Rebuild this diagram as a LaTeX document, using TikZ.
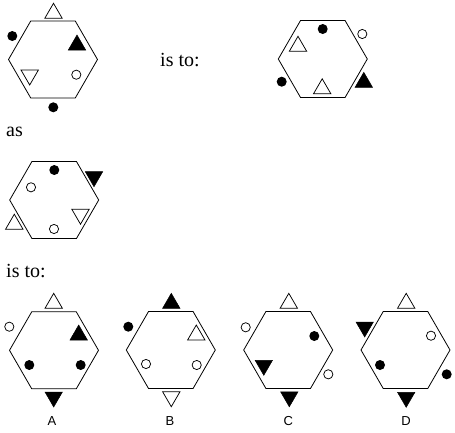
\documentclass[tikz,border=0pt]{standalone}
\usepackage{fontspec}
\setmainfont{Liberation Serif}
\newfontfamily\labfont{Liberation Sans}
\newcommand{\HexAt}[2]{\draw[hexline] (#1+44.5,#2) -- (#1+22.25,#2+38.54) -- (#1-22.25,#2+38.54) -- (#1-44.5,#2) -- (#1-22.25,#2-38.54) -- (#1+22.25,#2-38.54) -- cycle;}
\newcommand{\TriUp}[3]{\draw[#3] (#1-8.7,#2+7.5) -- (#1+8.7,#2+7.5) -- (#1,#2-7.5) -- cycle;}
\newcommand{\TriDn}[3]{\draw[#3] (#1-8.7,#2-7.5) -- (#1+8.7,#2-7.5) -- (#1,#2+7.5) -- cycle;}
\newcommand{\DotF}[2]{\fill[black] (#1,#2) circle (5);}
\newcommand{\DotO}[2]{\draw[openshape] (#1,#2) circle (4.6);}
\begin{document}
\begin{tikzpicture}[x=1pt,y=-1pt,
  hexline/.style={draw=black,line width=0.8pt,line join=miter},
  openshape/.style={draw=black,fill=white,line width=0.75pt,line join=miter},
  solidshape/.style={fill=black,draw=black,line width=0.5pt,line join=miter},
  caption/.style={font=\fontsize{20}{24}\selectfont,inner sep=0pt,anchor=base west},
  letter/.style={font=\labfont\fontsize{13}{15}\selectfont,inner sep=0pt}]
\useasboundingbox (0,0) rectangle (455,432);
% hexagon 1
\HexAt{53}{59.5}
\TriUp{53.5}{10.8}{openshape}
\DotF{12.3}{36}
\TriUp{77}{42.5}{solidshape}
\TriDn{29.7}{77.5}{openshape}
\DotO{76.3}{74.7}
\DotF{53.3}{107.3}
% hexagon 2
\HexAt{322.8}{59}
\DotF{322.7}{29}
\DotO{362.3}{34}
\TriUp{298}{43.8}{openshape}
\DotF{281.7}{81.7}
\TriUp{322.2}{86.3}{openshape}
\TriUp{363.8}{79.8}{solidshape}
% hexagon 3
\HexAt{54.2}{200}
\DotF{54.3}{170}
\TriDn{94}{179.2}{solidshape}
\DotO{31}{187.3}
\TriDn{80.5}{216.7}{openshape}
\TriUp{14.3}{221.7}{openshape}
\DotO{54}{229}
% A
\HexAt{54}{350.3}
\TriUp{53.7}{300.8}{openshape}
\DotO{9.3}{326.7}
\TriUp{78.7}{332.5}{solidshape}
\DotF{29.3}{365}
\DotF{80.7}{365}
\TriDn{53.7}{399.5}{solidshape}
% B
\HexAt{170.8}{350}
\TriUp{171.3}{300.8}{solidshape}
\DotF{128.3}{326.7}
\TriUp{196.3}{332.5}{openshape}
\DotO{146}{364}
\DotO{196.7}{365}
\TriDn{171.3}{399.2}{openshape}
% C
\HexAt{288.2}{350}
\TriUp{288.8}{300.8}{openshape}
\DotO{245.7}{327.3}
\DotF{314.3}{336}
\TriDn{263.8}{367.8}{solidshape}
\DotO{328.3}{374.3}
\TriDn{289.3}{399.3}{solidshape}
% D
\HexAt{405.5}{350}
\TriUp{406.2}{300.8}{openshape}
\TriDn{364.7}{329.5}{solidshape}
\DotO{431}{335.7}
\DotF{380}{365}
\DotF{446.7}{374.3}
\TriDn{406.2}{399.8}{solidshape}
% texts
\node[caption] (t1) at (160,66) {is to:};
\node[caption] (t2) at (6,136.7) {as};
\node[caption] (t3) at (6,277.3) {is to:};
\node[letter] (la) at (52,421.5) {A};
\node[letter] (lb) at (170,421) {B};
\node[letter] (lc) at (288.3,421) {C};
\node[letter] (ld) at (406,421) {D};
\end{tikzpicture}
\end{document}
